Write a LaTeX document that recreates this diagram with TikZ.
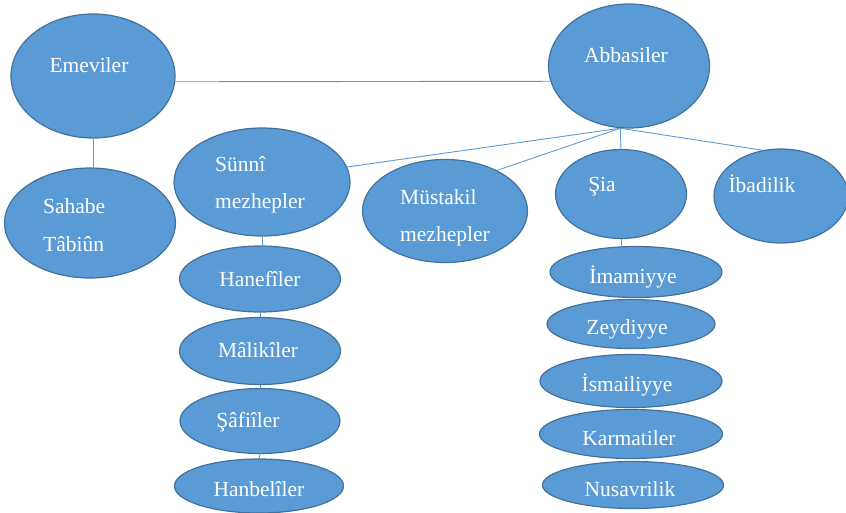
\documentclass[tikz,border=0pt]{standalone}
\usepackage{fontspec}
\setmainfont{Liberation Serif}
\usetikzlibrary{shapes.geometric}
\definecolor{fillblue}{HTML}{5B9BD5}
\definecolor{edgeblue}{HTML}{41719C}

\begin{document}
\begin{tikzpicture}[x=1pt,y=-1pt]
    \tikzstyle{oval}=[ellipse, draw=edgeblue, fill=fillblue, line width=1.2pt, inner sep=0pt]
    \tikzstyle{word}=[text=white, font=\fontsize{21.5}{37.5}\selectfont, inner sep=0pt]
    \tikzstyle{link}=[draw=fillblue, line width=0.9pt]
\useasboundingbox (0,0) rectangle (846,512);

\node[oval, minimum width=164, minimum height=124] (emeviler) at (93,76) {};
\node[word] (emeviler text) at (89,65) {Emeviler};

\node[oval, minimum width=171, minimum height=110] (sahabe) at (90,223) {};
\node[word, align=left, anchor=west] (sahabe text) at (43,225) {Sahabe\\Tâbiûn};

\node[oval, minimum width=161, minimum height=124] (abbasiler) at (629,66) {};
\node[word] (abbasiler text) at (626,55) {Abbasiler};

\node[oval, minimum width=176, minimum height=108] (sunni) at (262,182) {};
\node[word, align=left, anchor=west] (sunni text) at (215,185) {Sünnî\\mezhepler};

\node[oval, minimum width=165, minimum height=103] (mustakil) at (445,211) {};
\node[word, align=left, anchor=west] (mustakil text) at (400,218) {Müstakil\\mezhepler};

\node[oval, minimum width=131, minimum height=89] (sia) at (621,194) {};
\node[word] (sia text) at (602,187) {Şia};

\node[oval, minimum width=134, minimum height=94] (ibadilik) at (781,196) {};
\node[word] (ibadilik text) at (762,184) {İbadilik};

\node[oval, minimum width=161, minimum height=66] (hanefi) at (260,279) {};
\node[word] (hanefi text) at (260,279) {Hanefîler};

\node[oval, minimum width=161, minimum height=67] (maliki) at (260,351) {};
\node[word] (maliki text) at (258,350) {Mâlikîler};

\node[oval, minimum width=160, minimum height=65] (safii) at (260,421) {};
\node[word] (safii text) at (248,422) {Şâfiîler};

\node[oval, minimum width=169, minimum height=54] (hanbeli) at (259,486) {};
\node[word] (hanbeli text) at (259,489) {Hanbelîler};

\node[oval, minimum width=172, minimum height=51] (imamiyye) at (636,272) {};
\node[word] (imamiyye text) at (633,277) {İmamiyye};

\node[oval, minimum width=168, minimum height=49] (zeydiyye) at (631,324) {};
\node[word] (zeydiyye text) at (627,329) {Zeydiyye};

\node[oval, minimum width=182, minimum height=53] (ismailiyye) at (631,381) {};
\node[word] (ismailiyye text) at (627,385) {İsmailiyye};

\node[oval, minimum width=183, minimum height=49] (karmati) at (631,434) {};
\node[word] (karmati text) at (629,438) {Karmatiler};

\node[oval, minimum width=181, minimum height=47] (nusayri) at (633,485) {};
\node[word] (nusayri text) at (630,489) {Nusavrilik};

\draw[link] (emeviler.-4) -- (abbasiler.191);
\draw[link] (emeviler.south) -- (emeviler.south |- sahabe.north);
\draw[link] (abbasiler.262) -- (sunni.10);
\draw[link] (abbasiler.262) -- (mustakil.38);
\draw[link] (abbasiler.262) -- (sia.north);
\draw[link] (abbasiler.262) -- (ibadilik.112);
\draw[link] (sunni.south) -- (sunni.south |- hanefi.north);
\draw[link] (hanefi.south) -- (maliki.north);
\draw[link] (maliki.south) -- (safii.north);
\draw[link] (safii.south) -- (hanbeli.north);
\draw[link] (sia.south) -- (sia.south |- imamiyye.north);
    ;
\end{tikzpicture}
\end{document}
